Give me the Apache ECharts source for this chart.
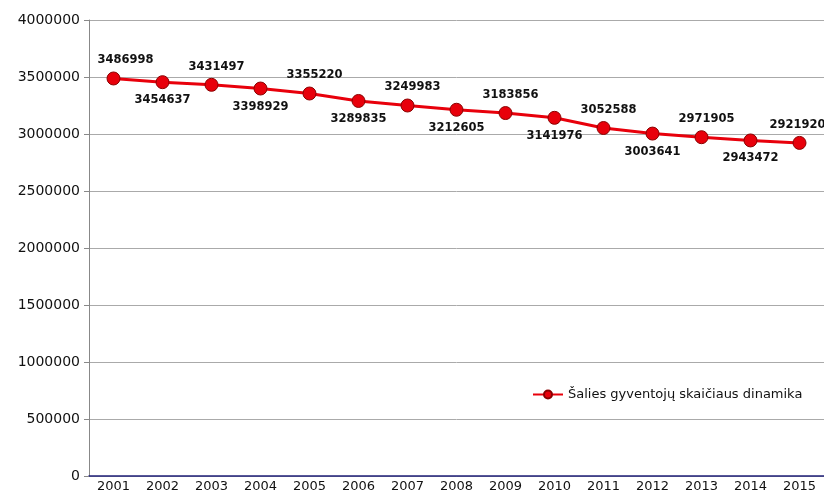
<!DOCTYPE html>
<html><head><meta charset="utf-8">
<script src="https://cdn.jsdelivr.net/npm/echarts@6/dist/echarts.min.js"></script>
<style>html,body{margin:0;padding:0;background:#fff}#c{width:824px;height:493px}</style>
</head><body><div id="c"></div>
<script>
const years = ['2001','2002','2003','2004','2005','2006','2007','2008','2009','2010','2011','2012','2013','2014','2015'];
const population = [3486998,3454637,3431497,3398929,3355220,3289835,3249983,3212605,3183856,3141976,3052588,3003641,2971905,2943472,2921920];
const seriesName = 'Šalies gyventojų skaičiaus dinamika';

const chart = echarts.init(document.getElementById('c'));
chart.setOption({
  animation: false,
  grid: {left: 89, right: -3, top: 20, bottom: 16},
  legend: {
    data: [seriesName], left: 527, top: 383, itemWidth: 30, itemHeight: 10, itemGap: 2,
    textStyle: {fontFamily: 'DejaVu Sans', fontSize: 13, color: '#111'}
  },
  xAxis: {
    type: 'category', data: years, boundaryGap: true,
    axisLine: {lineStyle: {color: '#20207a', width: 1.5}},
    axisTick: {show: false},
    axisLabel: {fontFamily: 'DejaVu Sans', fontSize: 13, color: '#111', margin: 4, interval: 0}
  },
  yAxis: {
    type: 'value', min: 0, max: 4000000, interval: 500000,
    axisLine: {show: true, lineStyle: {color: '#888'}},
    axisTick: {show: true, length: 5, lineStyle: {color: '#888'}},
    splitLine: {lineStyle: {color: '#aaa'}},
    axisLabel: {fontFamily: 'DejaVu Sans', fontSize: 14, color: '#111', margin: 9, formatter: v => String(v)}
  },
  series: [{
    name: seriesName, type: 'line', data: population.map((v, i) => ({
      value: v,
      label: i % 2 === 0
        ? {position: 'top', distance: 5, offset: [i === 0 ? 12 : (i === population.length - 1 ? -2 : 5), 0]}
        : {position: 'bottom', distance: 5}
    })),
    symbol: 'circle', symbolSize: 13,
    lineStyle: {color: '#e8000b', width: 3},
    itemStyle: {color: '#e8000b', borderColor: '#8a0000', borderWidth: 1},
    label: {show: true, fontFamily: 'DejaVu Sans', fontWeight: 'bold', fontSize: 11.5, color: '#111'}
  }]
});
</script></body></html>
